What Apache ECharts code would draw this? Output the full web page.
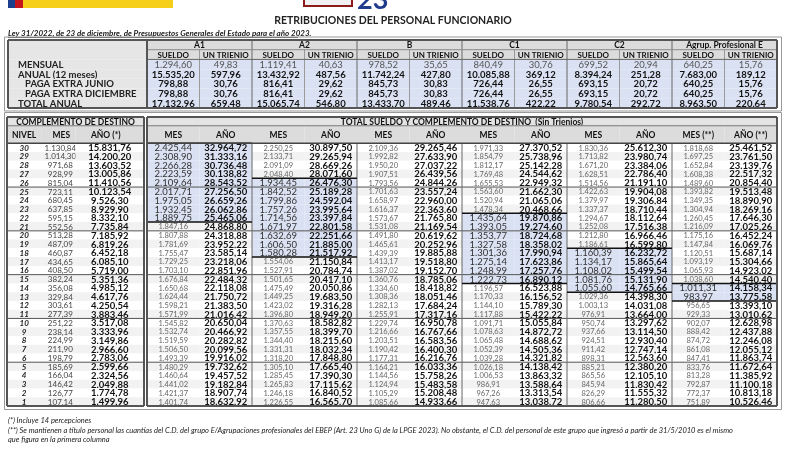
<!DOCTYPE html>
<html>
<head>
<meta charset="utf-8">
<title>Retribuciones del personal funcionario 2023</title>
<script src="https://cdn.jsdelivr.net/npm/echarts@6/dist/echarts.min.js"></script>
<style>
  html, body { margin: 0; padding: 0; background: #fff; }
  #chart { width: 800px; height: 450px; }
</style>
</head>
<body>
<div id="chart"></div>
<script>
// --- datos: tabla de sueldo base y trienios
const groups = ['A1', 'A2', 'B', 'C1', 'C2', 'Agrup. Profesional E']
const conceptLabels = ['MENSUAL', 'ANUAL (12 meses)', 'PAGA EXTRA JUNIO', 'PAGA EXTRA DICIEMBRE', 'TOTAL ANUAL']
const sueldoMensual = [1294.60, 1119.41, 978.52, 840.49, 699.52, 640.25]
const trienioMensual = [49.83, 40.63, 35.65, 30.76, 20.94, 15.76]
const sueldoAnual = [15535.20, 13432.92, 11742.24, 10085.88, 8394.24, 7683.00]
const trienioAnual = [597.96, 487.56, 427.80, 369.12, 251.28, 189.12]
const sueldoExtraJunio = [798.88, 816.41, 845.73, 726.44, 693.15, 640.25]
const trienioExtraJunio = [30.76, 29.62, 30.83, 26.55, 20.72, 15.76]
const sueldoExtraDic = [798.88, 816.41, 845.73, 726.44, 693.15, 640.25]
const trienioExtraDic = [30.76, 29.62, 30.83, 26.55, 20.72, 15.76]
const sueldoTotal = [17132.96, 15065.74, 13433.70, 11538.76, 9780.54, 8963.50]
const trienioTotal = [659.48, 546.80, 489.46, 422.22, 292.72, 220.64]

// --- datos: complemento de destino y totales por nivel
const niveles = [30, 29, 28, 27, 26, 25, 24, 23, 22, 21, 20, 19, 18, 17, 16, 15, 14, 13, 12, 11, 10, 9, 8, 7, 6, 5, 4, 3, 2, 1]
const cdMes = [1130.84, 1014.30, 971.68, 928.99, 815.04, 723.11, 680.45, 637.85, 595.15, 552.56, 513.28, 487.09, 460.87, 434.65, 408.50, 382.24, 356.08, 329.84, 303.61, 277.39, 251.22, 238.14, 224.99, 211.90, 198.79, 185.69, 166.04, 146.42, 126.77, 107.14]
const cdAnio = [15831.76, 14200.20, 13603.52, 13005.86, 11410.56, 10123.54, 9526.30, 8929.90, 8332.10, 7735.84, 7185.92, 6819.26, 6452.18, 6085.10, 5719.00, 5351.36, 4985.12, 4617.76, 4250.54, 3883.46, 3517.08, 3333.96, 3149.86, 2966.60, 2783.06, 2599.66, 2324.56, 2049.88, 1774.78, 1499.96]
const a1Mes = [2425.44, 2308.90, 2266.28, 2223.59, 2109.64, 2017.71, 1975.05, 1932.45, 1889.75, 1847.16, 1807.88, 1781.69, 1755.47, 1729.25, 1703.10, 1676.84, 1650.68, 1624.44, 1598.21, 1571.99, 1545.82, 1532.74, 1519.59, 1506.50, 1493.39, 1480.29, 1460.64, 1441.02, 1421.37, 1401.74]
const a1Anio = [32964.72, 31333.16, 30736.48, 30138.82, 28543.52, 27256.50, 26659.26, 26062.86, 25465.06, 24868.80, 24318.88, 23952.22, 23585.14, 23218.06, 22851.96, 22484.32, 22118.08, 21750.72, 21383.50, 21016.42, 20650.04, 20466.92, 20282.82, 20099.56, 19916.02, 19732.62, 19457.52, 19182.84, 18907.74, 18632.92]
const a2Mes = [2250.25, 2133.71, 2091.09, 2048.40, 1934.45, 1842.52, 1799.86, 1757.26, 1714.56, 1671.97, 1632.69, 1606.50, 1580.28, 1554.06, 1527.91, 1501.65, 1475.49, 1449.25, 1423.02, 1396.80, 1370.63, 1357.55, 1344.40, 1331.31, 1318.20, 1305.10, 1285.45, 1265.83, 1246.18, 1226.55]
const a2Anio = [30897.50, 29265.94, 28669.26, 28071.60, 26476.30, 25189.28, 24592.04, 23995.64, 23397.84, 22801.58, 22251.66, 21885.00, 21517.92, 21150.84, 20784.74, 20417.10, 20050.86, 19683.50, 19316.28, 18949.20, 18582.82, 18399.70, 18215.60, 18032.34, 17848.80, 17665.40, 17390.30, 17115.62, 16840.52, 16565.70]
const bMes = [2109.36, 1992.82, 1950.20, 1907.51, 1793.56, 1701.63, 1658.97, 1616.37, 1573.67, 1531.08, 1491.80, 1465.61, 1439.39, 1413.17, 1387.02, 1360.76, 1334.60, 1308.36, 1282.13, 1255.91, 1229.74, 1216.66, 1203.51, 1190.42, 1177.31, 1164.21, 1144.56, 1124.94, 1105.29, 1085.66]
const bAnio = [29265.46, 27633.90, 27037.22, 26439.56, 24844.26, 23557.24, 22960.00, 22363.60, 21765.80, 21169.54, 20619.62, 20252.96, 19885.88, 19518.80, 19152.70, 18785.06, 18418.82, 18051.46, 17684.24, 17317.16, 16950.78, 16767.66, 16583.56, 16400.30, 16216.76, 16033.36, 15758.26, 15483.58, 15208.48, 14933.66]
const c1Mes = [1971.33, 1854.79, 1812.17, 1769.48, 1655.53, 1563.60, 1520.94, 1478.34, 1435.64, 1393.05, 1353.77, 1327.58, 1301.36, 1275.14, 1248.99, 1222.73, 1196.57, 1170.33, 1144.10, 1117.88, 1091.71, 1078.63, 1065.48, 1052.39, 1039.28, 1026.18, 1006.53, 986.91, 967.26, 947.63]
const c1Anio = [27370.52, 25738.96, 25142.28, 24544.62, 22949.32, 21662.30, 21065.06, 20468.66, 19870.86, 19274.60, 18724.68, 18358.02, 17990.94, 17623.86, 17257.76, 16890.12, 16523.88, 16156.52, 15789.30, 15422.22, 15055.84, 14872.72, 14688.62, 14505.36, 14321.82, 14138.42, 13863.32, 13588.64, 13313.54, 13038.72]
const c2Mes = [1830.36, 1713.82, 1671.20, 1628.51, 1514.56, 1422.63, 1379.97, 1337.37, 1294.67, 1252.08, 1212.80, 1186.61, 1160.39, 1134.17, 1108.02, 1081.76, 1055.60, 1029.36, 1003.13, 976.91, 950.74, 937.66, 924.51, 911.42, 898.31, 885.21, 865.56, 845.94, 826.29, 806.66]
const c2Anio = [25612.30, 23980.74, 23384.06, 22786.40, 21191.10, 19904.08, 19306.84, 18710.44, 18112.64, 17516.38, 16966.46, 16599.80, 16232.72, 15865.64, 15499.54, 15131.90, 14765.66, 14398.30, 14031.08, 13664.00, 13297.62, 13114.50, 12930.40, 12747.14, 12563.60, 12380.20, 12105.10, 11830.42, 11555.32, 11280.50]
const eMes = [1818.68, 1697.25, 1652.84, 1608.38, 1489.60, 1393.82, 1349.35, 1304.94, 1260.45, 1216.09, 1175.16, 1147.84, 1120.51, 1093.19, 1065.93, 1038.60, 1011.31, 983.97, 956.65, 929.33, 902.07, 888.42, 874.72, 861.08, 847.41, 833.76, 813.28, 792.87, 772.37, 751.89]
const eAnio = [25461.52, 23761.50, 23139.76, 22517.32, 20854.40, 19513.48, 18890.90, 18269.16, 17646.30, 17025.26, 16452.24, 16069.76, 15687.14, 15304.66, 14923.02, 14540.40, 14158.34, 13775.58, 13393.10, 13010.62, 12628.98, 12437.88, 12246.08, 12055.12, 11863.74, 11672.64, 11385.92, 11100.18, 10813.18, 10526.46]
// niveles marcados en cada grupo (desde, hasta); B sin marcar
const tramos = [[30, 22], [26, 18], null, [22, 15], [18, 14], [14, 13]]

const FONT = 'Lato, "Open Sans", sans-serif'
const BLUE = '#dae1f2'
const HEAD = '#dcdcdc'
const LABEL_BG = '#e6e6e6'
const STRIPE = '#f2f2f2'

function fmt(v) {
  const parts = v.toFixed(2).split('.')
  return parts[0].replace(/\B(?=(\d{3})+(?!\d))/g, '.') + ',' + parts[1]
}

function cellBox(api, c) {
  const p = api.coord([c.col, c.row])
  const s = api.size([1, 1])
  return {
    x: p[0] - s[0] / 2,
    y: p[1] - s[1] / 2,
    w: s[0] * (c.span || 1),
    h: s[1] * (c.rows || 1)
  }
}

function renderCells(cells) {
  return function(params, api) {
    const c = cells[params.dataIndex]
    const b = cellBox(api, c)
    const children = []
    if (c.fill) {
      children.push({ type: 'rect', shape: { x: b.x, y: b.y, width: b.w, height: b.h }, style: { fill: c.fill }})
    }
    if (c.text) {
      let tx = b.x + b.w / 2
      if (c.align === 'left') tx = b.x + (c.pad || 0)
      if (c.align === 'right') tx = b.x + b.w - (c.pad || 0)
      children.push({
        type: 'text',
        style: {
          text: c.text, x: tx + (c.dx || 0), y: b.y + b.h / 2 + 0.5,
          align: c.align || 'center', verticalAlign: 'middle',
          fontFamily: FONT, fontSize: c.size || 9,
          fontWeight: c.bold ? 'bold' : 'normal',
          fontStyle: c.italic ? 'italic' : 'normal',
          fill: c.color || '#111'
        }
      })
    }
    return { type: 'group', children: children }
  }
}

function renderLines(lines) {
  return function(params, api) {
    const l = lines[params.dataIndex]
    const b = cellBox(api, l)
    let shape
    if (l.side === 'top') shape = { x1: b.x, y1: b.y, x2: b.x + b.w, y2: b.y }
    else if (l.side === 'bottom') shape = { x1: b.x, y1: b.y + b.h, x2: b.x + b.w, y2: b.y + b.h }
    else if (l.side === 'left') shape = { x1: b.x, y1: b.y, x2: b.x, y2: b.y + b.h }
    else shape = { x1: b.x + b.w, y1: b.y, x2: b.x + b.w, y2: b.y + b.h }
    return { type: 'line', shape: shape, style: { stroke: l.color, lineWidth: l.width }}
  }
}

function frame(lines, nCols, nRows, color, width) {
  lines.push({ col: 0, row: 0, span: nCols, side: 'top', color, width })
  lines.push({ col: 0, row: nRows - 1, span: nCols, side: 'bottom', color, width })
  lines.push({ col: 0, row: 0, rows: nRows, side: 'left', color, width })
  lines.push({ col: nCols - 1, row: 0, rows: nRows, side: 'right', color, width })
}

function tableSeries(gridIndex, cells, lines) {
  return [{
    type: 'custom', xAxisIndex: gridIndex, yAxisIndex: gridIndex, z: 2, silent: true,
    encode: { x: 0, y: 1 },
    data: cells.map(c => [c.col, c.row]),
    renderItem: renderCells(cells)
  }, {
    type: 'custom', xAxisIndex: gridIndex, yAxisIndex: gridIndex, z: 3, silent: true,
    encode: { x: 0, y: 1 },
    data: lines.map(l => [l.col, l.row]),
    renderItem: renderLines(lines)
  }]
}

// --- tabla superior: etiquetas
const topRowKeys = ['grupo', 'concepto'].concat(conceptLabels)
const labelIndent = [10, 10, 17, 17, 10]
const topLabelCells = [{ col: 0, row: 0, rows: 2, fill: LABEL_BG }]
conceptLabels.forEach((t, i) => {
  topLabelCells.push({ col: 0, row: i + 2, text: t, align: 'left', pad: labelIndent[i], bold: true, size: 9.5, color: '#222', fill: LABEL_BG })
})
const topLabelLines = []
frame(topLabelLines, 1, 7, '#555', 2)

// --- tabla superior: valores
const topCols = []
groups.forEach(g => { topCols.push(g + ' sueldo', g + ' trienio') })
const topRows = [
  [sueldoMensual, trienioMensual],
  [sueldoAnual, trienioAnual],
  [sueldoExtraJunio, trienioExtraJunio],
  [sueldoExtraDic, trienioExtraDic],
  [sueldoTotal, trienioTotal]
]
const topCells = []
groups.forEach((g, i) => {
  topCells.push({ col: 2 * i, row: 0, span: 2, text: g, bold: true, size: 8.5, fill: HEAD })
  topCells.push({ col: 2 * i, row: 1, text: 'SUELDO', bold: true, size: 8, fill: HEAD })
  topCells.push({ col: 2 * i + 1, row: 1, text: 'UN TRIENIO', bold: true, size: 8, fill: HEAD })
})
topRows.forEach((pair, r) => {
  groups.forEach((g, i) => {
    pair.forEach((arr, k) => {
      topCells.push({
        col: 2 * i + k, row: r + 2, text: fmt(arr[i]), bold: r > 0, size: 9.5,
        color: r === 0 ? '#555' : '#111', fill: BLUE
      })
    })
  })
})
const topLines = []
for (let j = 1; j < 12; j++) {
  const major = j % 2 === 0
  topLines.push({ col: j, row: major ? 0 : 1, rows: major ? 7 : 6, side: 'left', color: major ? '#666' : '#9a9a9a', width: 1 })
}
topLines.push({ col: 0, row: 0, span: 12, side: 'bottom', color: '#8a8a8a', width: 1 })
topLines.push({ col: 0, row: 1, span: 12, side: 'bottom', color: '#666', width: 1 })
frame(topLines, 12, 7, '#555', 2)

// --- tabla inferior: complemento de destino
const lowRowKeys = ['titulo', 'cabecera', 'cabecera2'].concat(niveles.map(String))
const cdCols = ['nivel', 'mes', 'anio', 'anio2']
const cdCells = [
  { col: 0, row: 0, span: 4, text: 'COMPLEMENTO DE DESTINO', bold: true, size: 8.5, fill: '#e4e4e4' },
  { col: 0, row: 1, rows: 2, text: 'NIVEL', bold: true, size: 8.5, fill: HEAD },
  { col: 1, row: 1, rows: 2, text: 'MES', bold: true, size: 8.5, fill: HEAD, dx: 3 },
  { col: 2, row: 1, rows: 2, span: 2, text: 'AÑO (*)', bold: true, size: 8.5, fill: HEAD, dx: -4 }
]
niveles.forEach((n, i) => {
  const fill = i % 2 ? STRIPE : '#ffffff'
  cdCells.push({ col: 0, row: i + 3, text: String(n), bold: true, italic: true, size: 8, color: '#222', fill })
  cdCells.push({ col: 1, row: i + 3, text: fmt(cdMes[i]), size: 8, color: '#444', fill, dx: 2 })
  cdCells.push({ col: 2, row: i + 3, span: 2, text: fmt(cdAnio[i]), bold: true, size: 9.5, fill, dx: 0 })
})
const cdLines = []
const bloques = [26, 21, 16, 11, 6]
bloques.forEach(n => {
  cdLines.push({ col: 0, row: 3 + niveles.indexOf(n), span: 4, side: 'bottom', color: '#555', width: 1 })
})
cdLines.push({ col: 0, row: 0, span: 4, side: 'bottom', color: '#777', width: 1 })
cdLines.push({ col: 0, row: 2, span: 4, side: 'bottom', color: '#444', width: 1.5 })
frame(cdLines, 4, 33, '#555', 2)

// --- tabla inferior: total sueldo y complemento de destino
const totMes = [a1Mes, a2Mes, bMes, c1Mes, c2Mes, eMes]
const totAnio = [a1Anio, a2Anio, bAnio, c1Anio, c2Anio, eAnio]
const totCols = []
groups.forEach(g => { totCols.push(g + ' mes', g + ' año') })
const totCells = [
  { col: 0, row: 0, span: 12, text: 'TOTAL SUELDO Y COMPLEMENTO DE DESTINO  (Sin Trienios)', bold: true, size: 8.5, fill: '#e4e4e4' }
]
groups.forEach((g, gi) => {
  const suf = gi === 5 ? ' (**)' : ''
  totCells.push({ col: 2 * gi, row: 1, rows: 2, text: 'MES' + suf, bold: true, size: 8.5, fill: HEAD })
  totCells.push({ col: 2 * gi + 1, row: 1, rows: 2, text: 'AÑO' + suf, bold: true, size: 8.5, fill: HEAD })
  const t = tramos[gi]
  niveles.forEach((n, i) => {
    const on = t && n <= t[0] && n >= t[1]
    const fill = on ? BLUE : (i % 2 ? STRIPE : '#ffffff')
    totCells.push({
      col: 2 * gi, row: i + 3, text: fmt(totMes[gi][i]), fill,
      size: on ? 9.5 : 7.5, color: on ? '#333' : '#666'
    })
    totCells.push({ col: 2 * gi + 1, row: i + 3, text: fmt(totAnio[gi][i]), bold: true, size: 9.5, fill })
  })
})
const totLines = []
bloques.forEach(n => {
  totLines.push({ col: 0, row: 3 + niveles.indexOf(n), span: 12, side: 'bottom', color: '#555', width: 1 })
})
for (let gi = 1; gi < 6; gi++) {
  totLines.push({ col: 2 * gi, row: 3, rows: 30, side: 'left', color: '#666', width: 1 })
}
tramos.forEach((t, gi) => {
  if (!t) return
  totLines.push({ col: 2 * gi, row: 3 + niveles.indexOf(t[0]), span: 2, side: 'top', color: '#111', width: 1.5 })
  totLines.push({ col: 2 * gi, row: 3 + niveles.indexOf(t[1]), span: 2, side: 'bottom', color: '#111', width: 1.5 })
})
totLines.push({ col: 0, row: 0, span: 12, side: 'bottom', color: '#777', width: 1 })
totLines.push({ col: 0, row: 2, span: 12, side: 'bottom', color: '#444', width: 1.5 })
frame(totLines, 12, 33, '#555', 2)

function axes(gridIndex, cols, rows) {
  return {
    x: { type: 'category', gridIndex, data: cols, show: false },
    y: { type: 'category', gridIndex, data: rows, inverse: true, show: false }
  }
}
const axisSets = [
  axes(0, ['concepto'], topRowKeys),
  axes(1, topCols, topRowKeys),
  axes(2, cdCols, lowRowKeys),
  axes(3, totCols, lowRowKeys)
]

const chart = echarts.init(document.getElementById('chart'))
chart.setOption({
  animation: false,
  textStyle: { fontFamily: FONT },
  grid: [
    { left: 8, top: 40, width: 139, height: 68, outerBoundsMode: 'none' },
    { left: 147, top: 40, width: 630, height: 68, outerBoundsMode: 'none' },
    { left: 7, top: 117, width: 137, height: 289, outerBoundsMode: 'none' },
    { left: 147, top: 117, width: 630, height: 289, outerBoundsMode: 'none' }
  ],
  xAxis: axisSets.map(a => a.x),
  yAxis: axisSets.map(a => a.y),
  series: [].concat(
    tableSeries(0, topLabelCells, topLabelLines),
    tableSeries(1, topCells, topLines),
    tableSeries(2, cdCells, cdLines),
    tableSeries(3, totCells, totLines)
  ),
  graphic: {
    elements: [
      // cabecera: bandera y logotipo (recortados)
      { type: 'rect', shape: { x: 8, y: 0, width: 7, height: 8 }, style: { fill: '#1d3f8f' }},
      { type: 'rect', shape: { x: 15, y: 0, width: 8, height: 8 }, style: { fill: '#c4161c' }},
      { type: 'rect', shape: { x: 23, y: 0, width: 150, height: 8 }, style: { fill: '#f6cf1a' }},
      { type: 'rect', shape: { x: 304, y: -4, width: 48, height: 10 }, style: { fill: '#f2f2f2', stroke: '#8c1c1c', lineWidth: 2 }},
      { type: 'text', x: 357, y: 0, style: { text: '23', fontFamily: FONT, fontSize: 27, fontWeight: 'bold', fill: '#1f3c8c', verticalAlign: 'middle' }},
      { type: 'text', x: 393, y: 21, style: { text: 'RETRIBUCIONES DEL PERSONAL FUNCIONARIO', fontFamily: FONT, fontSize: 10.5, fontWeight: 'bold', fill: '#222', align: 'center', verticalAlign: 'middle' }},
      { type: 'text', x: 8, y: 33, style: { text: 'Ley 31/2022, de 23 de diciembre, de Presupuestos Generales del Estado para el año 2023.', fontFamily: FONT, fontSize: 8, fontWeight: 'bold', fontStyle: 'italic', fill: '#222', verticalAlign: 'middle' }},
      { type: 'line', shape: { x1: 8, y1: 37.5, x2: 298, y2: 37.5 }, style: { stroke: '#333', lineWidth: 0.8 }},
      // marcos exteriores
      { type: 'rect', shape: { x: 4.5, y: 37, width: 777, height: 74 }, style: { fill: 'none', stroke: '#999', lineWidth: 1 }},
      { type: 'rect', shape: { x: 4.5, y: 112.5, width: 777, height: 297 }, style: { fill: 'none', stroke: '#999', lineWidth: 1 }},
      // notas
      { type: 'text', x: 8, y: 421, style: { text: '(*) Incluye 14 percepciones', fontFamily: FONT, fontSize: 7.5, fontStyle: 'italic', fill: '#222', verticalAlign: 'middle' }},
      { type: 'text', x: 8, y: 431, style: { text: '(**) Se mantienen a título personal las cuantías del C.D. del grupo E/Agrupaciones profesionales del EBEP (Art. 23 Uno G) de la LPGE 2023). No obstante, el C.D. del personal de este grupo que ingresó a partir de 31/5/2010 es el mismo', fontFamily: FONT, fontSize: 7.5, fontStyle: 'italic', fill: '#222', verticalAlign: 'middle' }},
      { type: 'text', x: 8, y: 440, style: { text: 'que figura en la primera columna', fontFamily: FONT, fontSize: 7.5, fontStyle: 'italic', fill: '#222', verticalAlign: 'middle' }}
    ]
  }
})
</script>
</body>
</html>
